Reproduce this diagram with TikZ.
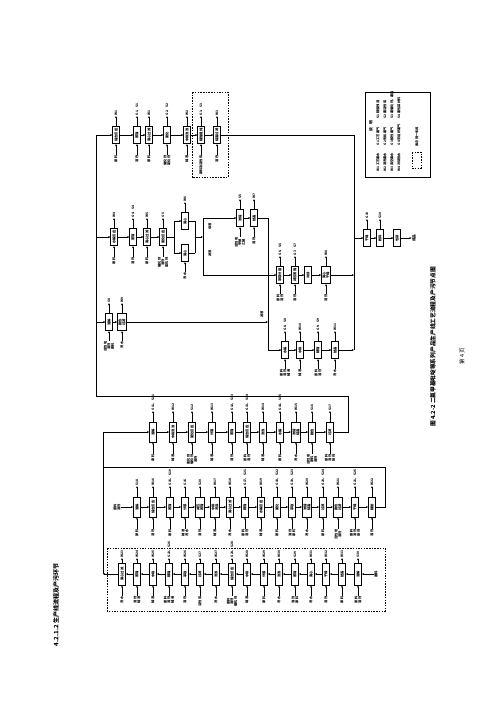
\documentclass[tikz,border=0pt]{standalone}
\usepackage{fontspec}
\setmainfont{Noto Sans CJK SC}
\usetikzlibrary{arrows.meta,calc}
\def\outoff{19}\def\inoff{20}
\newcommand\procbox[7][bx]{%
  \node[#1] (#2) at (#3,#4) {#5};
  \if\relax\detokenize{#6}\relax\else
    \node[lbl,anchor=west] (#2o) at (#3,#4-\outoff) {#6};
    \draw[arr] (#2) -- (#2o);
  \fi
  \if\relax\detokenize{#7}\relax\else
    \node[lbl,anchor=east] (#2i) at (#3,#4+\inoff) {#7};
    \draw[arr] (#2i) -- (#2);
  \fi}
\begin{document}
\begin{tikzpicture}[x=1pt,y=-1pt,
 bx/.style={draw,line width=0.6pt,fill=white,rotate=90,minimum width=17.5pt,minimum height=6.5pt,inner sep=0.2pt,font=\fontsize{3.3}{3.7}\selectfont\bfseries,align=center},
 bxw/.style={bx,minimum height=9pt},
 bxt/.style={bx,minimum width=20pt,minimum height=7pt},
 bxtw/.style={bxt,minimum height=9.5pt},
 bxb/.style={bx,minimum width=22pt,minimum height=7pt},
 lbl/.style={rotate=90,inner sep=0.5pt,font=\fontsize{3.2}{3.6}\selectfont\bfseries,align=center},
 arr/.style={-{Stealth[length=2.3pt,width=1.9pt]},line width=0.55pt},
 ln/.style={line width=0.6pt},
 dashbox/.style={draw,line width=0.5pt,dash pattern=on 1.5pt off 1.2pt},
 txt/.style={rotate=90,inner sep=0pt}]
\useasboundingbox (0,0) rectangle (500,707);
\fill[white] (0,0) rectangle (500,707);

% ---- page texts ----
\node[txt,font=\fontsize{6}{7}\selectfont\bfseries] (head) at (56,605) {4.2.1.2 生产线流程及产污环节};
\node[txt,font=\fontsize{5.7}{7}\selectfont\bfseries] (cap) at (433,347) {图 4.2-2 二氯甲基吡啶等系列产品生产线工艺流程及产污节点图};
\node[txt,font=\fontsize{5.5}{7}\selectfont] (pg) at (462,356) {第 4 页};

% ---- legend ----
\node[draw,line width=0.6pt,rotate=90,minimum width=85pt,minimum height=65pt] (leg) at (397.5,134.5) {};
\node[lbl,font=\fontsize{3.8}{4}\selectfont\bfseries] (legt) at (371,126) {说\quad 明};
\foreach \n/\xx/\ta/\tb/\tc in {1/378/{W1 工艺废水}/{G1 工艺废气}/{S1 精馏残渣},2/385/{W2 清洗废水}/{G2 有机废气}/{S2 废活性炭},3/392/{W3 真空废水}/{G3 酸性废气}/{S3 废催化剂、废盐},4/399/{W4 冷却排水}/{G4 无组织废气}/{S4 废包装材料}}{
  \node[lbl,anchor=west] (lga\n) at (\xx,172) {\ta};
  \node[lbl,anchor=west] (lgb\n) at (\xx,146) {\tb};
  \node[lbl,anchor=west] (lgc\n) at (\xx,119) {\tc};
}
\node[dashbox,rotate=90,minimum width=16pt,minimum height=9pt] (legd) at (416.5,160) {};
\node[lbl,anchor=west] (legdt) at (417,147) {表示同一车间};

% ---- dashed frames ----
\node[dashbox,rotate=90,minimum width=85pt,minimum height=36pt] (fra) at (210,134.5) {};
\node[dashbox,rotate=90,minimum width=63pt,minimum height=278pt] (frb) at (246,579.5) {};

% ---- named coordinates ----
\coordinate (l1t) at (96,135);
\coordinate (l1m) at (96,237);
\coordinate (l1c) at (96,322);
\coordinate (l1b) at (96,396);
\coordinate (v3t) at (354,135);
\coordinate (v3h) at (354,238);
\coordinate (v3e) at (354,275);
\coordinate (v3f) at (354,350);
\coordinate (bs) at (174,237);
\coordinate (bs1) at (174,221);
\coordinate (bs2) at (174,253);
\coordinate (bj) at (195,237);
\coordinate (bj1) at (195,221);
\coordinate (bj2) at (195,253);
\coordinate (gvm) at (203,237);
\coordinate (gv1) at (203,218);
\coordinate (gv2) at (203,275);
\coordinate (v2t) at (268,218);
\coordinate (v2c) at (268,322);
\coordinate (v2b) at (268,350);
\coordinate (l0t) at (103,432);
\coordinate (l0m) at (103,467);
\coordinate (l0b) at (103,574);
\coordinate (cr) at (348,432);
\coordinate (crt) at (348,396);
\coordinate (dr) at (385,507);
\coordinate (dr2) at (385,467);

% ---- Row A ----
\procbox{a1}{116}{135}{缩合反应}{W1}{原料}
\procbox{a2}{137}{135}{蒸馏}{G1、S1}{溶剂}
\procbox{a3}{149}{135}{离心过滤}{W1}{原料}
\procbox{a4}{167}{135}{氯化}{G2、S2}{催化剂\\氯化剂}
\procbox{a5}{187}{135}{中和洗涤}{W2}{碱液}
\procbox{a6}{201}{135}{精馏提纯}{G3、S3}{原料及活性炭}
\procbox{a7}{217}{135}{结晶过滤}{W3}{溶剂}
\draw[ln] (l1b) -- (l1t);
\draw[arr] (l1t) -- (a1);
\foreach \p/\q in {a1/a2,a2/a3,a3/a4,a4/a5,a5/a6,a6/a7} \draw[arr] (\p) -- (\q);
\draw[ln] (a7) -- (v3t);
\draw[ln] (v3t) -- (v3f);

% ---- Row B ----
\procbox{b1}{114}{237}{水解反应}{W4}{原料}
\procbox{b2}{133}{237}{蒸馏}{G4、S4}{溶剂}
\procbox{b3}{147}{237}{离心过滤}{W5}{原料}
\procbox{b4}{163}{237}{氯化反应}{G5}{催化剂\\溶剂\\氯化剂}
\procbox{b5}{185}{221}{离心}{W6}{}
\def\inoff{19}
\procbox{b6}{185}{253}{离心}{}{洗水}
\draw[arr] (l1m) -- (b1);
\foreach \p/\q in {b1/b2,b2/b3,b3/b4} \draw[arr] (\p) -- (\q);
\draw[ln] (b4) -- (bs);
\draw[ln] (bs1) -- (bs2);
\draw[arr] (bs1) -- (b5);
\draw[arr] (bs2) -- (b6);
\draw[ln] (b5) -- (bj1);
\draw[ln] (b6) -- (bj2);
\draw[ln] (bj1) -- (bj2);
\draw[arr] (bj) -- (gvm);
\draw[ln] (gv1) -- (gv2);
\node[lbl] (t1) at (210,226) {母液};
\node[lbl] (t2) at (210,253) {滤液};

% ---- Row G ----
\def\inoff{19}
\procbox{g1}{240}{218}{浓缩}{S5}{活性炭\\甲醇\\乙醇}
\procbox{g2}{254}{218}{结晶}{W7}{溶剂}
\draw[arr] (gv1) -- (g1);
\draw[arr] (g1) -- (g2);
\draw[ln] (g2) -- (v2t);
\draw[ln] (v2t) -- (v2b);

% ---- Row E ----
\procbox{e1}{280}{275}{萃取分层}{G6、S6}{原料\\溶剂}
\procbox{e2}{295}{275}{减压蒸馏}{G7、S7}{溶剂}
\procbox{e3}{308}{275}{冷却}{}{}
\procbox[bxw]{e4}{326}{275}{离心\\干燥}{W8}{溶剂}
\draw[arr] (gv2) -- (e1);
\foreach \p/\q in {e1/e2,e2/e3,e3/e4} \draw[arr] (\p) -- (\q);
\draw[arr] (e4) -- (v3e);

% ---- Row B1 ----
\procbox{c1}{109}{322}{溶解}{S8}{活性炭\\溶剂\\原料}
\procbox[bxw]{c2}{122}{322}{脱色\\过滤}{W9}{洗水}
\draw[arr] (l1c) -- (c1);
\draw[arr] (c1) -- (c2);
\draw[arr] (c2) -- (v2c);
\node[lbl] (t3) at (262,314) {滤液};

% ---- Row F ----
\procbox{f1}{285}{350}{水解}{G8、S8}{原料\\溶剂\\碱液}
\procbox{f2}{300}{350}{中和}{W10}{碱液}
\procbox{f3}{318}{350}{精馏}{G9、S9}{原料\\溶剂}
\procbox{f4}{335}{350}{结晶}{W11}{洗水}
\draw[arr] (v2b) -- (f1);
\foreach \p/\q in {f1/f2,f2/f3,f3/f4} \draw[arr] (\p) -- (\q);
\draw[arr] (f4) -- (v3f);

% ---- Row H (final) ----
\procbox{h1}{367}{238}{干燥}{G10}{}
\procbox{h2}{380}{238}{粉碎}{S10}{}
\procbox{h3}{397}{238}{包装}{}{}
\node[lbl,font=\fontsize{3.6}{4}\selectfont\bfseries] (prod) at (414,238) {成品};
\draw[arr] (v3h) -- (h1);
\draw[arr] (h1) -- (h2);
\draw[arr] (h2) -- (h3);
\draw[arr] (h3) -- (prod);

% ---- Row C ----
\def\outoff{21}\def\inoff{22}
\procbox[bxt]{k1}{153}{432}{溶解}{G11、S11}{原料}
\procbox[bxt]{k2}{173}{432}{中和洗涤}{W12}{碱液}
\procbox[bxt]{k3}{192}{432}{氯化反应}{S12}{氯化剂\\催化剂\\溶剂}
\procbox[bxt]{k4}{212}{432}{分层}{W13}{碱液}
\procbox[bxt]{k5}{232}{432}{蒸馏}{G12、S13}{溶剂}
\procbox[bxt]{k6}{247}{432}{缩合反应}{G13、S14}{原料\\溶剂}
\procbox[bxt]{k7}{263}{432}{洗涤}{W14}{碱液}
\procbox[bxt]{k8}{280}{432}{水解}{G14、S15}{原料}
\procbox[bxtw]{k9}{296}{432}{浓缩\\结晶}{W15}{洗水}
\procbox[bxt]{k10}{312}{432}{脱色}{S16}{活性炭\\原料\\溶剂}
\procbox[bxt]{k11}{330}{432}{过滤}{S17}{原料\\溶剂\\助剂}
\draw[ln] (l0b) -- (l0t);
\draw[arr] (l0t) -- (k1);
\foreach \p/\q in {k1/k2,k2/k3,k3/k4,k4/k5,k5/k6,k6/k7,k7/k8,k8/k9,k9/k10,k10/k11} \draw[arr] (\p) -- (\q);
\draw[ln] (k11) -- (cr) -- (crt) -- (l1b);

% ---- Row D ----
\node[lbl] (dl) at (117,507) {原料\\溶剂};
\procbox[bxt]{d1}{137}{507}{溶解}{S18}{原料}
\procbox[bxt]{d2}{153}{507}{缩合反应}{W16}{溶剂}
\procbox[bxt]{d3}{170}{507}{蒸馏}{G15、S19}{原料}
\procbox[bxt]{d4}{185}{507}{分层}{G16}{碱液\\洗水}
\procbox[bxtw]{d5}{200}{507}{减压\\蒸馏}{S20}{溶剂}
\procbox[bxtw]{d6}{215}{507}{中和\\洗涤}{W17}{碱液}
\procbox[bxt]{d7}{230}{507}{离心过滤}{W18}{洗水}
\procbox[bxt]{d8}{245}{507}{精馏}{G17、S21}{原料\\溶剂}
\procbox[bxt]{d9}{261}{507}{水解反应}{W19}{碱液}
\procbox[bxt]{d10}{277}{507}{氯化}{G18、S22}{原料}
\procbox[bxt]{d11}{292}{507}{萃取}{G19、S23}{溶剂\\原料}
\procbox[bxtw]{d12}{307}{507}{浓缩\\结晶}{W20}{洗水}
\procbox[bxt]{d13}{323}{507}{过滤}{G20、S24}{原料}
\procbox[bxtw]{d14}{338}{507}{脱色\\过滤}{W21}{活性炭\\溶剂}
\procbox[bxt]{d15}{355}{507}{干燥}{G21、S25}{原料\\溶剂\\助剂}
\procbox[bxt]{d16}{372}{507}{精制}{W22}{溶剂}
\draw[arr] (dl) -- (d1);
\foreach \p/\q in {d1/d2,d2/d3,d3/d4,d4/d5,d5/d6,d6/d7,d7/d8,d8/d9,d9/d10,d10/d11,d11/d12,d12/d13,d13/d14,d14/d15,d15/d16} \draw[arr] (\p) -- (\q);
\draw[ln] (d16) -- (dr) -- (dr2) -- (l0m);

% ---- dashed row ----
\def\outoff{16}\def\inoff{22}
\procbox[bxb]{m1}{122}{574}{离心过滤}{W23}{洗水}
\procbox[bxb]{m2}{137}{574}{蒸馏}{W24}{溶剂\\碱液}
\procbox[bxb]{m3}{153}{574}{中和}{W25}{碱液}
\procbox[bxb]{m4}{169}{574}{精馏}{G22、S26}{原料\\溶剂\\碱液}
\procbox[bxb]{m5}{185}{574}{萃取}{W26}{溶剂}
\procbox[bxb]{m6}{200}{574}{过滤}{S27}{活性炭}
\procbox[bxb]{m7}{216}{574}{洗涤}{W27}{洗水}
\procbox[bxb]{m8}{232}{574}{缩合反应}{G23、S28}{原料\\溶剂\\催化剂}
\procbox[bxb]{m9}{247}{574}{中和}{W28}{碱液}
\procbox[bxb]{m10}{264}{574}{分层}{W29}{原料}
\procbox[bxb]{m11}{279}{574}{洗涤}{W30}{洗水}
\procbox[bxb]{m12}{295}{574}{蒸馏}{S29}{溶剂\\原料}
\procbox[bxb]{m13}{311}{574}{离心}{W31}{洗水}
\procbox[bxb]{m14}{326}{574}{干燥}{W32}{溶剂}
\procbox[bxb]{m15}{342}{574}{结晶}{W33}{原料}
\procbox[bxb]{m16}{358}{574}{溶解}{S30}{原料\\溶剂}
\node[lbl,font=\fontsize{3.4}{4}\selectfont\bfseries] (mr) at (376,574) {原料};
\draw[arr] (mr) -- (m16);
\foreach \p/\q in {m16/m15,m15/m14,m14/m13,m13/m12,m12/m11,m11/m10,m10/m9,m9/m8,m8/m7,m7/m6,m6/m5,m5/m4,m4/m3,m3/m2,m2/m1} \draw[arr] (\p) -- (\q);
\draw[arr] (m1) -- (l0b);
\end{tikzpicture}
\end{document}
